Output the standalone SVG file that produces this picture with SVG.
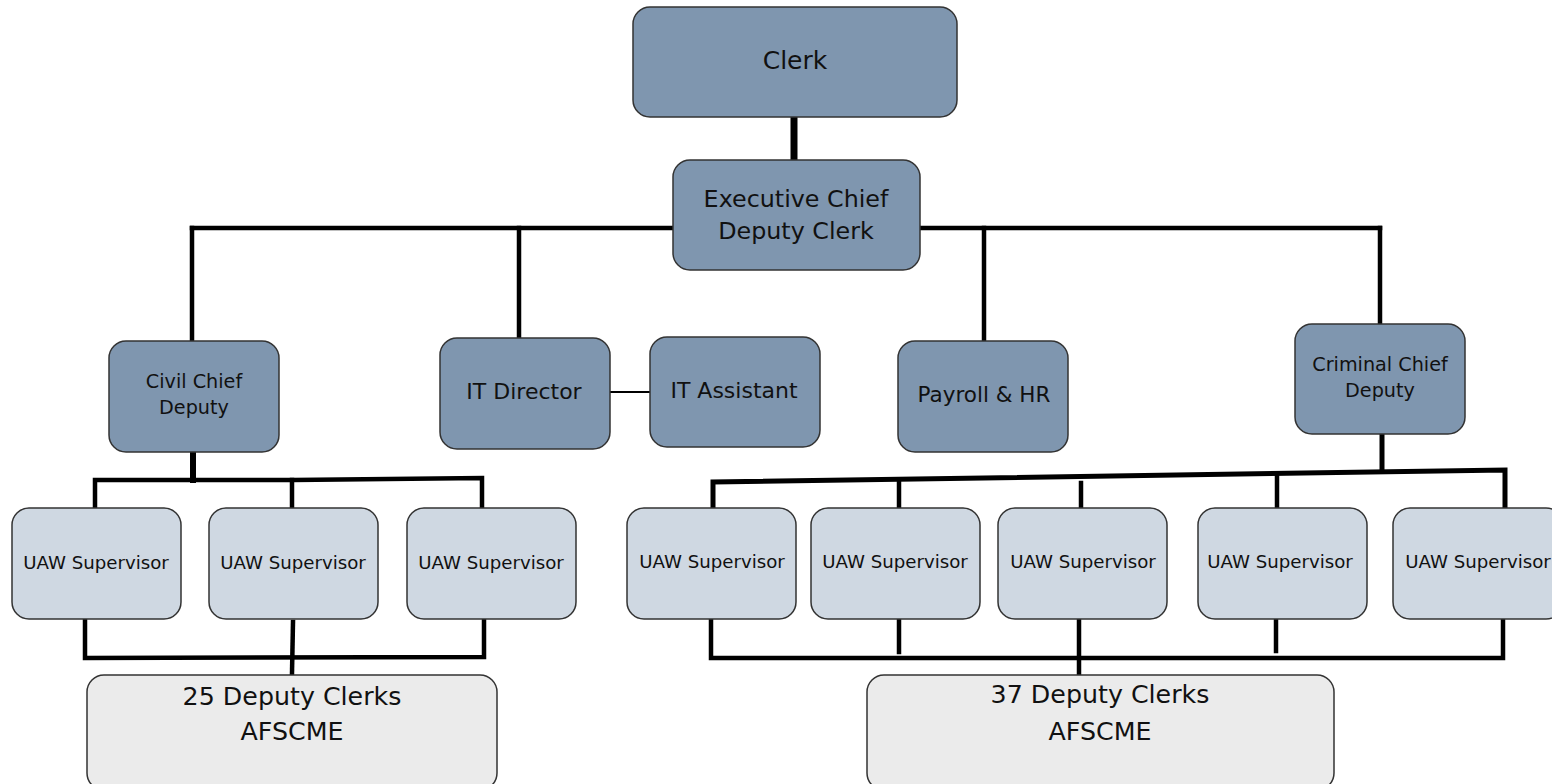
<svg xmlns="http://www.w3.org/2000/svg" width="1552" height="784" viewBox="0 0 1552 784">
<style>
.n rect{stroke:#333;stroke-width:1.5}
.d rect{fill:#7F96AF}
.l rect{fill:#CFD8E2}
.g rect{fill:#EBEBEB}
text{font-family:"DejaVu Sans","Verdana",sans-serif;fill:#111;text-anchor:middle}
.u text{font-size:18.2px}
.c line,.c polyline{stroke:#000;fill:none;stroke-linecap:square}
</style>
<rect width="1552" height="784" fill="#fff"/>
<g class="c" id="connectors">
<line x1="794" y1="117" x2="794" y2="160" stroke-width="7"/>
<line x1="192" y1="228" x2="1380" y2="228" stroke-width="4.5"/>
<line x1="192" y1="228" x2="192" y2="341" stroke-width="4.5"/>
<line x1="519" y1="228" x2="519" y2="338" stroke-width="4.5"/>
<line x1="984" y1="228" x2="984" y2="341" stroke-width="4.5"/>
<line x1="1380" y1="228" x2="1380" y2="324" stroke-width="4.5"/>
<line x1="610" y1="392" x2="650" y2="392" stroke-width="2"/>
<line x1="193" y1="452" x2="193" y2="480" stroke-width="6"/>
<polyline points="95,508 95,480 293,480 482,478 482,508" stroke-width="4.5"/>
<line x1="292" y1="480" x2="292" y2="508" stroke-width="4.5"/>
<polyline points="85,619 85,658 484,657 484,619" stroke-width="4.5"/>
<line x1="293" y1="622" x2="292" y2="673" stroke-width="4.5"/>
<line x1="1382" y1="434" x2="1382" y2="470" stroke-width="5"/>
<polyline points="713,508 713,482 1505,470 1505,508" stroke-width="5"/>
<line x1="899" y1="480" x2="899" y2="508" stroke-width="4.5"/>
<line x1="1081" y1="483" x2="1081" y2="508" stroke-width="4.5"/>
<line x1="1277" y1="476" x2="1277" y2="508" stroke-width="4.5"/>
<polyline points="711,619 711,658 1503,658 1503,619" stroke-width="4.5"/>
<line x1="899" y1="620" x2="899" y2="652" stroke-width="4.5"/>
<line x1="1079" y1="619" x2="1079" y2="673" stroke-width="4.5"/>
<line x1="1276" y1="619" x2="1276" y2="651" stroke-width="4.5"/>
</g>
<g id="clerk" class="n d"><rect x="633" y="7" width="324" height="110" rx="17"/><text x="795" y="69" font-size="25">Clerk</text></g>
<g id="exec" class="n d"><rect x="673" y="160" width="247" height="110" rx="17"/><text x="796" y="207" font-size="23.8">Executive Chief</text><text x="796" y="239" font-size="23.8">Deputy Clerk</text></g>
<g id="civil" class="n d"><rect x="109" y="341" width="170" height="111" rx="17"/><text x="194" y="388" font-size="19.2">Civil Chief</text><text x="194" y="414" font-size="19.2">Deputy</text></g>
<g id="itdir" class="n d"><rect x="440" y="338" width="170" height="111" rx="17"/><text x="524" y="399" font-size="22">IT Director</text></g>
<g id="itasst" class="n d"><rect x="650" y="337" width="170" height="110" rx="17"/><text x="734" y="398" font-size="22">IT Assistant</text></g>
<g id="payroll" class="n d"><rect x="898" y="341" width="170" height="111" rx="17"/><text x="984" y="402" font-size="21.5">Payroll &amp; HR</text></g>
<g id="criminal" class="n d"><rect x="1295" y="324" width="170" height="110" rx="17"/><text x="1380" y="371" font-size="19.2">Criminal Chief</text><text x="1380" y="397" font-size="19.2">Deputy</text></g>
<g id="uaw1" class="n l u"><rect x="12" y="508" width="169" height="111" rx="17"/><text x="96" y="569">UAW Supervisor</text></g>
<g id="uaw2" class="n l u"><rect x="209" y="508" width="169" height="111" rx="17"/><text x="293" y="569">UAW Supervisor</text></g>
<g id="uaw3" class="n l u"><rect x="407" y="508" width="169" height="111" rx="17"/><text x="491" y="569">UAW Supervisor</text></g>
<g id="uaw4" class="n l u"><rect x="627" y="508" width="169" height="111" rx="17"/><text x="712" y="568">UAW Supervisor</text></g>
<g id="uaw5" class="n l u"><rect x="811" y="508" width="169" height="111" rx="17"/><text x="895" y="568">UAW Supervisor</text></g>
<g id="uaw6" class="n l u"><rect x="998" y="508" width="169" height="111" rx="17"/><text x="1083" y="568">UAW Supervisor</text></g>
<g id="uaw7" class="n l u"><rect x="1198" y="508" width="169" height="111" rx="17"/><text x="1280" y="568">UAW Supervisor</text></g>
<g id="uaw8" class="n l u"><rect x="1393" y="508" width="170" height="111" rx="17"/><text x="1478" y="568">UAW Supervisor</text></g>
<g id="dc25" class="n g"><rect x="87" y="675" width="410" height="115" rx="17"/><text x="292" y="705" font-size="25.3">25 Deputy Clerks</text><text x="292" y="740" font-size="25.3">AFSCME</text></g>
<g id="dc37" class="n g"><rect x="867" y="675" width="467" height="115" rx="17"/><text x="1100" y="703" font-size="25.3">37 Deputy Clerks</text><text x="1100" y="740" font-size="25.3">AFSCME</text></g>
</svg>
